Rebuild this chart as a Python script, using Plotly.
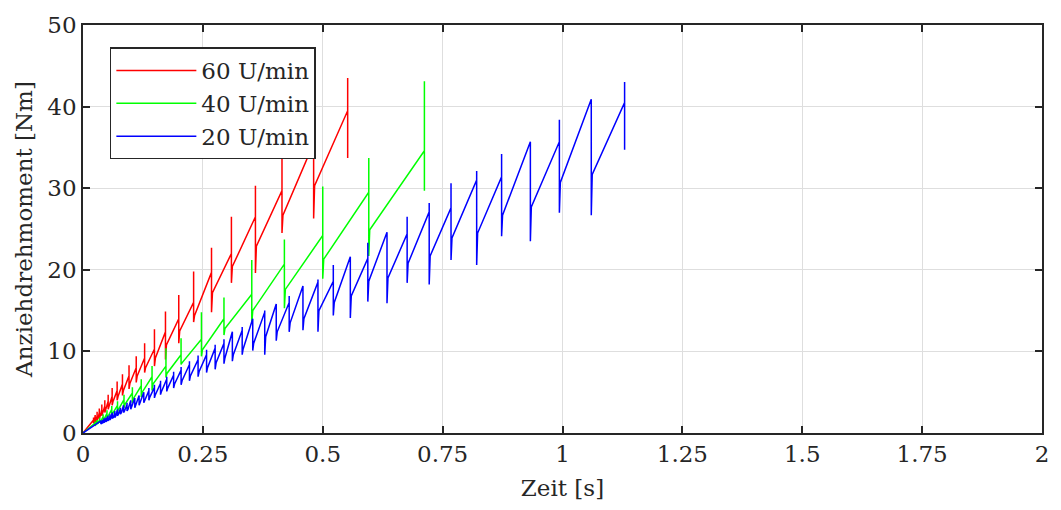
import plotly.graph_objects as go

# ---------------- data ----------------
# each event: time [s], torque just before the drop, spike top, spike bottom, value after recovery
red_t     = [0.022, 0.0254, 0.0294, 0.034, 0.0393, 0.0455, 0.0525, 0.0608, 0.0712, 0.0823, 0.096, 0.111, 0.1285, 0.149, 0.172, 0.1997, 0.2307, 0.268, 0.3095, 0.3596, 0.415, 0.481, 0.552]
red_peak  = [1.6, 1.8, 2.1, 2.5, 2.9, 3.3, 3.9, 4.5, 5.2, 6.0, 7.0, 8.0, 9.2, 10.3, 12.4, 14.0, 16.0, 19.7, 22.0, 26.5, 29.7, 35.5, 39.5]
red_hi    = [1.9, 2.2, 2.6, 3.0, 3.5, 4.0, 4.7, 5.5, 6.3, 7.2, 8.3, 9.4, 11.0, 12.7, 14.9, 16.9, 19.8, 22.7, 26.5, 30.3, 34.3, 39.5, 43.5]
red_lo    = [1.2, 1.4, 1.6, 1.8, 2.1, 2.5, 2.9, 3.4, 4.0, 4.6, 5.4, 6.2, 7.4, 8.2, 9.0, 11.0, 13.6, 14.8, 18.4, 19.6, 24.5, 26.3, 33.7]
red_after = [1.4, 1.6, 1.8, 2.1, 2.5, 2.9, 3.3, 3.9, 4.5, 5.2, 6.1, 7.0, 8.0, 9.2, 10.8, 12.5, 14.4, 17.2, 20.4, 22.9, 26.7, 30.3, None]

green_t     = [0.0247, 0.0295, 0.035, 0.042, 0.050, 0.060, 0.072, 0.0855, 0.103, 0.1215, 0.144, 0.173, 0.2045, 0.247, 0.294, 0.352, 0.420, 0.500, 0.596, 0.712]
green_peak  = [1.2, 1.4, 1.7, 2.0, 2.4, 2.9, 3.4, 4.1, 4.9, 5.8, 6.9, 8.2, 9.6, 11.5, 14.0, 17.0, 20.7, 24.2, 29.5, 34.6]
green_hi    = [1.4, 1.6, 1.9, 2.3, 2.8, 3.3, 3.9, 4.7, 5.6, 6.6, 8.2, 10.4, 11.6, 14.8, 16.6, 21.2, 23.7, 30.2, 33.7, 43.1]
green_lo    = [0.9, 1.1, 1.3, 1.5, 1.8, 2.2, 2.6, 3.1, 3.7, 4.4, 5.2, 6.8, 8.4, 9.4, 12.0, 13.4, 15.3, 18.9, 21.7, 29.7]
green_after = [1.0, 1.2, 1.4, 1.7, 2.0, 2.4, 2.9, 3.5, 4.2, 5.0, 6.0, 7.3, 8.6, 10.2, 12.8, 15.0, 17.6, 21.3, 24.9, None]

blue_t     = [0.0373, 0.0405, 0.044, 0.0478, 0.0519, 0.0563, 0.0611, 0.0663, 0.0719, 0.078, 0.0846, 0.0918, 0.0996, 0.108, 0.117, 0.1268,
              0.1374, 0.149, 0.1617, 0.1747, 0.189, 0.2046, 0.222, 0.240, 0.2577, 0.2756, 0.294, 0.3115, 0.332, 0.354, 0.379, 0.403,
              0.430, 0.4587, 0.490, 0.522, 0.5575, 0.594, 0.634, 0.676, 0.722, 0.7675, 0.821, 0.873, 0.933, 0.9935, 1.060, 1.1295]
blue_peak  = [1.4, 1.5, 1.7, 1.8, 2.0, 2.1, 2.3, 2.5, 2.7, 3.0, 3.2, 3.5, 3.8, 4.1, 4.4, 4.8,
              5.2, 5.6, 6.1, 6.6, 7.1, 7.7, 8.4, 9.0, 9.6, 10.4, 11.0, 12.2, 12.6, 13.8, 14.8, 15.6,
              16.0, 17.8, 18.5, 18.6, 21.6, 21.4, 24.6, 24.4, 27.1, 27.6, 31.0, 31.4, 35.7, 35.7, 40.8, 40.5]
blue_hi    = [1.5, 1.6, 1.8, 1.9, 2.1, 2.3, 2.5, 2.7, 2.9, 3.1, 3.4, 3.7, 4.0, 4.3, 4.6, 5.0,
              5.5, 5.9, 6.4, 6.9, 7.5, 8.1, 8.8, 9.5, 10.2, 10.8, 11.5, 12.4, 13.0, 14.0, 15.0, 15.8,
              16.8, 18.0, 18.8, 20.6, 21.6, 23.3, 24.6, 26.5, 28.2, 30.6, 32.1, 34.2, 35.7, 38.4, 40.9, 43.0]
blue_lo    = [1.1, 1.2, 1.3, 1.4, 1.5, 1.6, 1.8, 1.9, 2.1, 2.3, 2.5, 2.7, 2.9, 3.1, 3.4, 3.7,
              4.0, 4.3, 4.7, 5.1, 5.5, 5.9, 6.4, 6.9, 7.4, 7.8, 8.5, 8.8, 9.6, 10.1, 9.6, 11.3,
              12.4, 12.6, 12.4, 14.4, 14.1, 16.1, 15.9, 18.4, 18.2, 21.2, 20.6, 24.1, 23.5, 27.0, 26.7, 34.7]
blue_after = [1.2, 1.3, 1.4, 1.5, 1.6, 1.8, 1.9, 2.1, 2.3, 2.5, 2.7, 2.9, 3.2, 3.4, 3.7, 4.0,
              4.4, 4.7, 5.1, 5.5, 6.0, 6.4, 7.0, 7.5, 8.0, 8.6, 9.2, 9.6, 10.3, 11.0, 11.8, 12.4,
              13.5, 14.0, 15.0, 16.0, 16.8, 18.6, 19.0, 20.8, 21.7, 23.9, 24.5, 26.7, 27.7, 30.7, 31.7, None]

series_names = ["60 U/min", "40 U/min", "20 U/min"]
x_ticks = [0, 0.25, 0.5, 0.75, 1, 1.25, 1.5, 1.75, 2]
x_tick_labels = ["0", "0.25", "0.5", "0.75", "1", "1.25", "1.5", "1.75", "2"]
y_ticks = [0, 10, 20, 30, 40, 50]
y_tick_labels = ["0", "10", "20", "30", "40", "50"]

# ---------------- build curves ----------------
RECOVER_DT = 0.002


def build(ts, peak, hi, lo, after):
    xs, ys = [0.0], [0.0]
    for t, p, h, l, a in zip(ts, peak, hi, lo, after):
        xs += [t, t, t]
        ys += [p, h, l]
        if a is not None:
            xs.append(t + RECOVER_DT)
            ys.append(a)
    return xs, ys


series = [
    (red_t, red_peak, red_hi, red_lo, red_after, "#ff0000"),
    (green_t, green_peak, green_hi, green_lo, green_after, "#00ff00"),
    (blue_t, blue_peak, blue_hi, blue_lo, blue_after, "#0000ff"),
]

FONT = "DejaVu Serif"
TXT = "#262626"
fig = go.Figure()
for name, (ts, pk, hi, lo, af, col) in zip(series_names, series):
    xs, ys = build(ts, pk, hi, lo, af)
    fig.add_trace(go.Scatter(x=xs, y=ys, mode="lines", name=name,
                             line=dict(color=col, width=1.5)))

axis_common = dict(
    showgrid=True, gridcolor="#dedede", gridwidth=1,
    showline=True, linecolor=TXT, linewidth=1.5, mirror="ticks",
    ticks="inside", ticklen=7, tickwidth=1.5, tickcolor=TXT,
    zeroline=False,
    tickfont=dict(family=FONT, size=23, color=TXT),
)

fig.update_xaxes(range=[0, 2], tickvals=x_ticks, ticktext=x_tick_labels,
                 title=dict(text="Zeit [s]", font=dict(family=FONT, size=23, color=TXT), standoff=14),
                 **axis_common)
fig.update_yaxes(range=[0, 50], tickvals=y_ticks, ticktext=y_tick_labels,
                 title=dict(text="Anziehdrehmoment [Nm]", font=dict(family=FONT, size=23, color=TXT), standoff=8),
                 **axis_common)

fig.update_layout(
    width=1061, height=510,
    margin=dict(l=83, r=13, t=18, b=77),
    paper_bgcolor="white", plot_bgcolor="white",
    showlegend=True,
    legend=dict(x=0.028, y=0.945, xanchor="left", yanchor="top",
                bgcolor="white", bordercolor=TXT, borderwidth=1.5,
                font=dict(family=FONT, size=23, color=TXT),
                itemwidth=80, tracegroupgap=0),
)

fig.write_html("out.html")
